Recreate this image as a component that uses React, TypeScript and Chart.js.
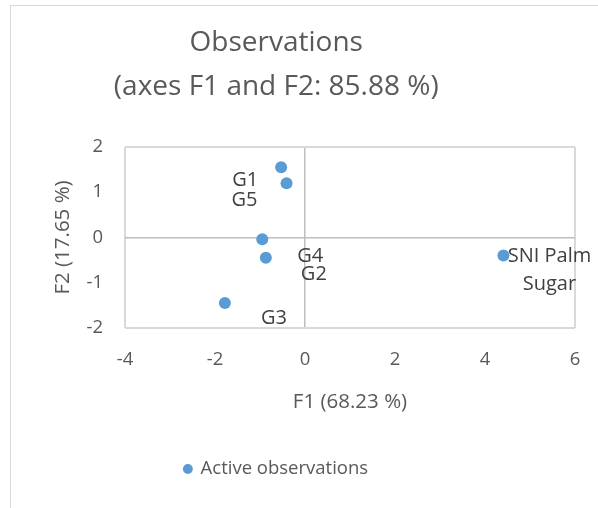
import React, { useEffect, useRef } from "react";
import { Chart, registerables } from "chart.js";

Chart.register(...registerables);

// ---- data ----
const observationNames = ["G1", "G5", "G4", "G2", "G3", "SNI Palm Sugar"];
const f1Values = [-0.53, -0.41, -0.95, -0.87, -1.78, 4.41];
const f2Values = [1.55, 1.2, -0.04, -0.45, -1.45, -0.4];
const titleLines = ["Observations", "(axes F1 and F2: 85.88 %)"];
const xAxisTitle = "F1 (68.23 %)";
const yAxisTitle = "F2 (17.65 %)";
const seriesName = "Active observations";
const xMin = -4;
const xMax = 6;
const xStep = 2;
const yMin = -2;
const yMax = 2;
const yStep = 1;

// ---- label placement (style, not data) ----
const labelOffsets: [number, number][] = [
  [-36, 13],
  [-42, 17],
  [48, 17],
  [48, 16],
  [49, 15],
  [46, 15],
];
const labelWrap: Record<string, string[]> = {
  "SNI Palm Sugar": ["SNI Palm", "Sugar"],
};

const FONT = "'Open Sans', sans-serif";
const TEXT = "#595959";

const dataLabelPlugin = {
  id: "dataLabels",
  afterDatasetsDraw(chart: any) {
    const ctx = chart.ctx;
    const meta = chart.getDatasetMeta(0);
    ctx.save();
    ctx.font = `20px ${FONT}`;
    ctx.fillStyle = "#404040";
    ctx.textAlign = "center";
    ctx.textBaseline = "middle";
    meta.data.forEach((pt: any, i: number) => {
      const name = observationNames[i];
      const lines = labelWrap[name] || [name];
      const [dx, dy] = labelOffsets[i];
      const lh = 28;
      const cx = pt.x + dx;
      const cy = pt.y + dy - ((lines.length - 1) * lh) / 2;
      lines.forEach((ln, k) => ctx.fillText(ln, cx, cy + k * lh));
    });
    ctx.restore();
  },
};

function gridColor(edgeA: number, edgeB: number) {
  return (c: any) => {
    const v = c.tick ? c.tick.value : NaN;
    if (v === 0) return "#bfbfbf";
    if (v === edgeA || v === edgeB) return "#d9d9d9";
    return "rgba(0,0,0,0)";
  };
}
function gridWidth(edgeA: number, edgeB: number) {
  return (c: any) => {
    const v = c.tick ? c.tick.value : NaN;
    if (v === 0) return 1.5;
    if (v === edgeA || v === edgeB) return 2;
    return 0;
  };
}

export default function App() {
  const ref = useRef<HTMLCanvasElement | null>(null);

  useEffect(() => {
    if (!ref.current) return;
    const chart = new Chart(ref.current, {
      type: "scatter",
      data: {
        datasets: [
          {
            label: seriesName,
            data: f1Values.map((x, i) => ({ x, y: f2Values[i] })),
            backgroundColor: "#5b9bd5",
            borderColor: "#5b9bd5",
            borderWidth: 0,
            pointRadius: 6,
            pointHoverRadius: 6,
            pointStyle: "circle",
          },
        ],
      },
      options: {
        responsive: false,
        animation: false,
        layout: { padding: { left: -22.5, right: 23, top: 0, bottom: 19.75 } },
        plugins: {
          tooltip: { enabled: false },
          title: {
            display: true,
            text: titleLines,
            color: TEXT,
            font: { family: FONT, size: 28, weight: "normal", lineHeight: 1.56 },
            padding: { top: 21.5, bottom: 38.1 },
          },
          legend: {
            display: true,
            position: "bottom",
            align: "center",
            labels: {
              usePointStyle: true,
              boxWidth: 7,
              boxHeight: 7,
              padding: 41.75,
              color: TEXT,
              font: { family: FONT, size: 18.5 },
            },
          },
        },
        scales: {
          x: {
            type: "linear",
            min: xMin,
            max: xMax,
            ticks: {
              stepSize: xStep,
              color: TEXT,
              padding: 21,
              font: { family: FONT, size: 18.5 },
            },
            grid: {
              color: gridColor(xMin, xMax),
              lineWidth: gridWidth(xMin, xMax),
              drawTicks: false,
            },
            border: { display: false },
            title: {
              display: true,
              text: xAxisTitle,
              color: TEXT,
              font: { family: FONT, size: 20.5 },
              padding: { top: 0, bottom: 4 },
            },
            afterFit(scale: any) {
              scale.height = 90;
              scale.paddingLeft = 0;
              scale.paddingRight = 0;
            },
          },
          y: {
            type: "linear",
            min: yMin,
            max: yMax,
            ticks: {
              stepSize: yStep,
              color: TEXT,
              padding: 22,
              font: { family: FONT, size: 18.5 },
            },
            grid: {
              color: gridColor(yMin, yMax),
              lineWidth: gridWidth(yMin, yMax),
              drawTicks: false,
            },
            border: { display: false },
            title: {
              display: true,
              text: yAxisTitle,
              color: TEXT,
              font: { family: FONT, size: 20.5 },
              padding: { top: 73.2, bottom: 0 },
            },
            afterFit(scale: any) {
              scale.width = 147.5;
            },
          },
        },
      },
      plugins: [dataLabelPlugin],
    } as any);
    return () => chart.destroy();
  }, []);

  return (
    <div
      style={{
        position: "fixed",
        left: 0,
        top: 0,
        width: 598,
        height: 508,
        overflow: "hidden",
        background: "#ffffff",
      }}
    >
      <div
        style={{
          position: "absolute",
          left: 10,
          top: 5,
          width: 700,
          height: 600,
          border: "1px solid #d9d9d9",
        }}
      />
      <canvas
        ref={ref}
        width={598}
        height={508}
        style={{ position: "absolute", left: 0, top: 0, width: 598, height: 508 }}
      />
    </div>
  );
}
